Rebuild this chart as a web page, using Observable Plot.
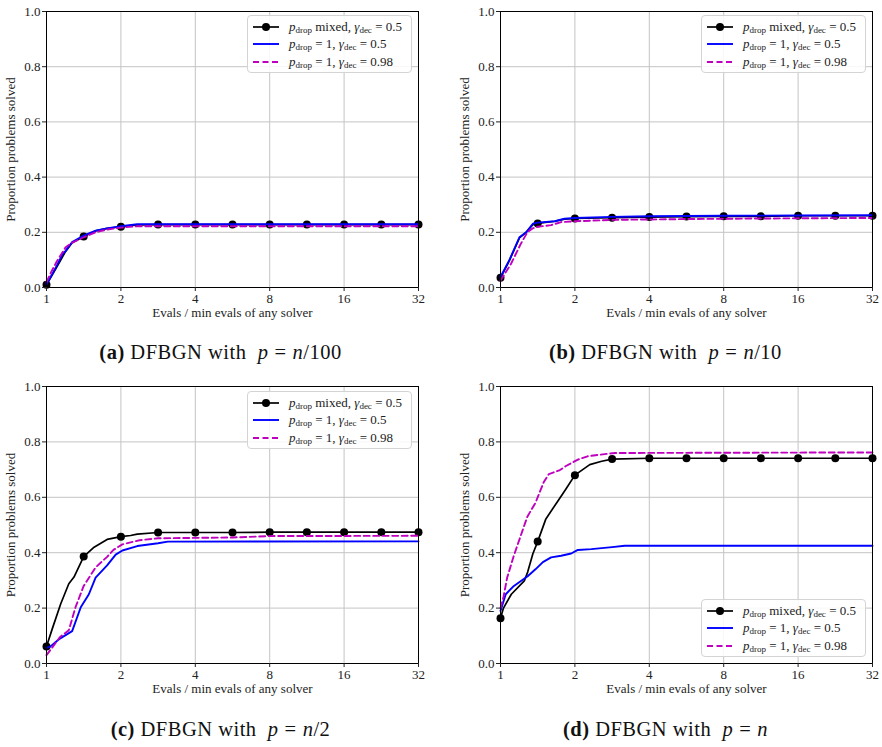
<!DOCTYPE html>
<html>
<head>
<meta charset="utf-8">
<script src="https://cdn.jsdelivr.net/npm/d3@7"></script>
<script src="https://cdn.jsdelivr.net/npm/@observablehq/plot@0.6"></script>
<style>
  html, body { margin: 0; padding: 0; background: #fff; }
  #wrap { position: relative; width: 882px; height: 747px; font-family: "Liberation Serif", "DejaVu Serif", serif; }
  .panel { position: absolute; }
  .legend { position: absolute; width: 165px; height: 58px; border: 1px solid #d4d4d4; border-radius: 4px; background: rgba(255,255,255,0.85); box-sizing: border-box; font-size: 13px; color: #222; }
  .row { position: absolute; left: 4px; height: 17px; display: flex; align-items: center; white-space: nowrap; }
  .row svg { margin-right: 9px; }
  .row sub { font-size: 9px; vertical-align: -2px; }
  .caption { position: absolute; width: 441px; text-align: center; font-size: 20.5px; letter-spacing: 0.5px; color: #111; white-space: nowrap; }
  .caption .eq { margin: 0 6px; }
</style>
</head>
<body>
<div id="wrap"></div>
<script>
// ---- shared ticks & marker positions ----
const xTicks = [1, 2, 4, 8, 16, 32];
const yTicks = [0, 0.2, 0.4, 0.6, 0.8, 1.0];
const xMarks = [1, 1.414, 2, 2.828, 4, 5.657, 8, 11.31, 16, 22.63, 32];

// ---- (a) p = n/100 ----
const aMixedX = [1, 1.102, 1.193, 1.27, 1.414, 1.58, 1.759, 2, 2.33, 2.828, 4, 5.657, 8, 11.31, 16, 22.63, 32];
const aMixedY = [0.01, 0.075, 0.13, 0.162, 0.185, 0.205, 0.214, 0.22, 0.227, 0.228, 0.228, 0.228, 0.228, 0.228, 0.228, 0.228, 0.228];
const aBlueX = [1, 1.05, 1.102, 1.16, 1.193, 1.27, 1.414, 1.58, 1.759, 2, 2.33, 2.828, 32];
const aBlueY = [0.012, 0.045, 0.08, 0.12, 0.132, 0.165, 0.188, 0.206, 0.214, 0.222, 0.229, 0.229, 0.229];
const aMagX = [1, 1.05, 1.102, 1.193, 1.257, 1.414, 1.58, 1.759, 2, 2.33, 32];
const aMagY = [0.02, 0.06, 0.095, 0.145, 0.16, 0.182, 0.2, 0.21, 0.217, 0.222, 0.222];

// ---- (b) p = n/10 ----
const bMixedX = [1, 1.087, 1.193, 1.27, 1.352, 1.414, 1.659, 1.815, 2, 2.828, 4, 5.657, 8, 11.31, 16, 22.63, 32];
const bMixedY = [0.035, 0.098, 0.18, 0.2, 0.228, 0.232, 0.24, 0.248, 0.25, 0.253, 0.255, 0.257, 0.258, 0.258, 0.26, 0.26, 0.26];
const bBlueX = [1, 1.087, 1.193, 1.27, 1.352, 1.414, 1.659, 1.815, 2, 2.828, 4, 8, 16, 32];
const bBlueY = [0.038, 0.1, 0.182, 0.2, 0.231, 0.235, 0.24, 0.249, 0.252, 0.256, 0.258, 0.26, 0.261, 0.262];
const bMagX = [1, 1.102, 1.206, 1.284, 1.347, 1.414, 1.602, 1.759, 2, 2.828, 5.657, 11.31, 32];
const bMagY = [0.025, 0.085, 0.157, 0.2, 0.214, 0.22, 0.226, 0.237, 0.24, 0.245, 0.248, 0.25, 0.252];

// ---- (c) p = n/2 ----
const cMixedX = [1, 1.055, 1.141, 1.231, 1.292, 1.414, 1.558, 1.759, 2, 2.188, 2.33, 2.828, 4, 5.657, 8, 11.31, 16, 22.63, 32];
const cMixedY = [0.061, 0.125, 0.215, 0.288, 0.312, 0.386, 0.42, 0.448, 0.458, 0.462, 0.467, 0.473, 0.473, 0.473, 0.474, 0.474, 0.474, 0.474, 0.474];
const cBlueX = [1, 1.032, 1.133, 1.27, 1.376, 1.484, 1.58, 1.759, 1.905, 2.028, 2.33, 2.828, 3.095, 32];
const cBlueY = [0.057, 0.06, 0.09, 0.117, 0.203, 0.25, 0.31, 0.354, 0.393, 0.408, 0.424, 0.434, 0.44, 0.441];
const cMagX = [1, 1.133, 1.231, 1.31, 1.414, 1.58, 1.759, 1.866, 2.028, 2.378, 2.828, 5.657, 8, 32];
const cMagY = [0.03, 0.095, 0.12, 0.203, 0.28, 0.347, 0.385, 0.41, 0.43, 0.445, 0.452, 0.455, 0.46, 0.461];

// ---- (d) p = n ----
const dMixedX = [1, 1.028, 1.106, 1.248, 1.288, 1.352, 1.414, 1.526, 1.729, 1.84, 2, 2.297, 2.567, 2.828, 4, 5.657, 8, 11.31, 16, 22.63, 32];
const dMixedY = [0.163, 0.2, 0.25, 0.298, 0.33, 0.396, 0.44, 0.522, 0.594, 0.63, 0.68, 0.718, 0.73, 0.738, 0.741, 0.741, 0.741, 0.741, 0.741, 0.741, 0.741];
const dBlueX = [1, 1.05, 1.133, 1.288, 1.385, 1.484, 1.602, 1.759, 1.932, 2.056, 2.33, 2.828, 3.182, 32];
const dBlueY = [0.19, 0.25, 0.28, 0.315, 0.34, 0.366, 0.383, 0.389, 0.397, 0.41, 0.413, 0.42, 0.425, 0.425];
const dMagX = [1, 1.028, 1.064, 1.133, 1.206, 1.284, 1.385, 1.495, 1.569, 1.729, 1.84, 2.056, 2.25, 2.639, 2.908, 32];
const dMagY = [0.2, 0.24, 0.31, 0.39, 0.46, 0.53, 0.58, 0.654, 0.684, 0.697, 0.713, 0.736, 0.748, 0.756, 0.76, 0.762];

// ---- labels ----
const xLabel = "Evals / min evals of any solver";
const yLabel = "Proportion problems solved";
const captionTags = ["(a)", "(b)", "(c)", "(d)"];
const captionDenoms = ["100", "10", "2", ""];

const colBlack = "#000000", colBlue = "#0000ff", colMag = "#bf00bf";
const zip = (xs, ys) => xs.map((x, i) => ({x, y: ys[i]}));
const markSet = new Set(xMarks);

function panel(mixed, blue, mag, box) {
  const ptsMixed = zip(...mixed);
  const ptsBlue = zip(...blue);
  const ptsMag = zip(...mag);
  const dots = ptsMixed.filter(d => markSet.has(d.x));
  return Plot.plot({
    width: box.width, height: box.height,
    marginLeft: box.ml, marginRight: box.mr, marginTop: box.mt, marginBottom: box.mb,
    style: {fontFamily: '"Liberation Serif", "DejaVu Serif", serif', fontSize: "13px", color: "#222", background: "transparent", overflow: "visible"},
    x: {type: "log", base: 2, domain: [1, 32]},
    y: {domain: [0, 1]},
    marks: [
      Plot.gridX(xTicks, {stroke: "#c4c4c4", strokeOpacity: 1, strokeWidth: 1}),
      Plot.gridY(yTicks, {stroke: "#c4c4c4", strokeOpacity: 1, strokeWidth: 1}),
      Plot.line(ptsMixed, {x: "x", y: "y", stroke: colBlack, strokeWidth: 1.7}),
      Plot.dot(dots, {x: "x", y: "y", r: 4, fill: colBlack, stroke: "none"}),
      Plot.line(ptsBlue, {x: "x", y: "y", stroke: colBlue, strokeWidth: 1.9}),
      Plot.line(ptsMag, {x: "x", y: "y", stroke: colMag, strokeWidth: 1.9, strokeDasharray: "6,3.5"}),
      Plot.frame({stroke: "#000", strokeWidth: 1}),
      Plot.axisX(xTicks, {tickFormat: d => String(d), tickSize: 4, tickPadding: 2, label: null}),
      Plot.axisY(yTicks, {tickFormat: d3.format(".1f"), tickSize: 4, tickPadding: 2, label: null}),
      Plot.text([xLabel], {frameAnchor: "bottom", textAnchor: "middle", dy: 29, fontSize: 13, fill: "#222"}),
      Plot.text([yLabel], {frameAnchor: "left", textAnchor: "middle", rotate: -90, dx: -36, fontSize: 13, fill: "#222"})
    ]
  });
}

const wrap = document.getElementById("wrap");
const boxes = [
  {left: 0, top: 0, width: 441, height: 330, ml: 46, mr: 23, mt: 11, mb: 43},
  {left: 441, top: 0, width: 441, height: 330, ml: 59, mr: 10, mt: 11, mb: 43},
  {left: 0, top: 375, width: 441, height: 330, ml: 46, mr: 23, mt: 11, mb: 42},
  {left: 441, top: 375, width: 441, height: 330, ml: 59, mr: 10, mt: 11, mb: 42}
];
const data = [
  [[aMixedX, aMixedY], [aBlueX, aBlueY], [aMagX, aMagY]],
  [[bMixedX, bMixedY], [bBlueX, bBlueY], [bMagX, bMagY]],
  [[cMixedX, cMixedY], [cBlueX, cBlueY], [cMagX, cMagY]],
  [[dMixedX, dMixedY], [dBlueX, dBlueY], [dMagX, dMagY]]
];
const legendPos = [
  {left: 247, top: 15}, {left: 701, top: 15}, {left: 247, top: 391}, {left: 701, top: 599}
];
const captionTop = [341, 341, 718, 718];

function handle(kind) {
  const ns = "http://www.w3.org/2000/svg";
  const s = document.createElementNS(ns, "svg");
  s.setAttribute("width", 28); s.setAttribute("height", 10);
  const l = document.createElementNS(ns, "line");
  l.setAttribute("x1", 1); l.setAttribute("x2", 27); l.setAttribute("y1", 5); l.setAttribute("y2", 5);
  l.setAttribute("stroke-width", kind === "mixed" ? 1.7 : 1.9);
  l.setAttribute("stroke", kind === "mixed" ? colBlack : kind === "blue" ? colBlue : colMag);
  if (kind === "mag") l.setAttribute("stroke-dasharray", "6,3.5");
  s.appendChild(l);
  if (kind === "mixed") {
    const c = document.createElementNS(ns, "circle");
    c.setAttribute("cx", 14); c.setAttribute("cy", 5); c.setAttribute("r", 4); c.setAttribute("fill", colBlack);
    s.appendChild(c);
  }
  return s;
}
const legendRows = [
  ["mixed", '<i>p</i><sub>drop</sub> mixed, <i>γ</i><sub>dec</sub> = 0.5'],
  ["blue", '<i>p</i><sub>drop</sub> = 1, <i>γ</i><sub>dec</sub> = 0.5'],
  ["mag", '<i>p</i><sub>drop</sub> = 1, <i>γ</i><sub>dec</sub> = 0.98']
];

boxes.forEach((b, i) => {
  const div = document.createElement("div");
  div.className = "panel";
  div.style.left = b.left + "px"; div.style.top = b.top + "px";
  div.appendChild(panel(...data[i], b));
  wrap.appendChild(div);

  const lg = document.createElement("div");
  lg.className = "legend";
  lg.style.left = legendPos[i].left + "px"; lg.style.top = legendPos[i].top + "px";
  legendRows.forEach((r, j) => {
    const row = document.createElement("div");
    row.className = "row";
    row.style.top = (2 + j * 17.5) + "px";
    row.appendChild(handle(r[0]));
    const t = document.createElement("span");
    t.innerHTML = r[1];
    row.appendChild(t);
    lg.appendChild(row);
  });
  wrap.appendChild(lg);

  const cap = document.createElement("div");
  cap.className = "caption";
  cap.style.left = b.left + (i % 2 ? 4 : 0) + "px"; cap.style.top = captionTop[i] + "px";
  const den = captionDenoms[i];
  cap.innerHTML = '<b>' + captionTags[i] + '</b> DFBGN with &nbsp;<i>p</i><span class="eq">=</span>' +
    (den ? '<i>n</i>/' + den : '<i>n</i>');
  wrap.appendChild(cap);
});
</script>
</body>
</html>
